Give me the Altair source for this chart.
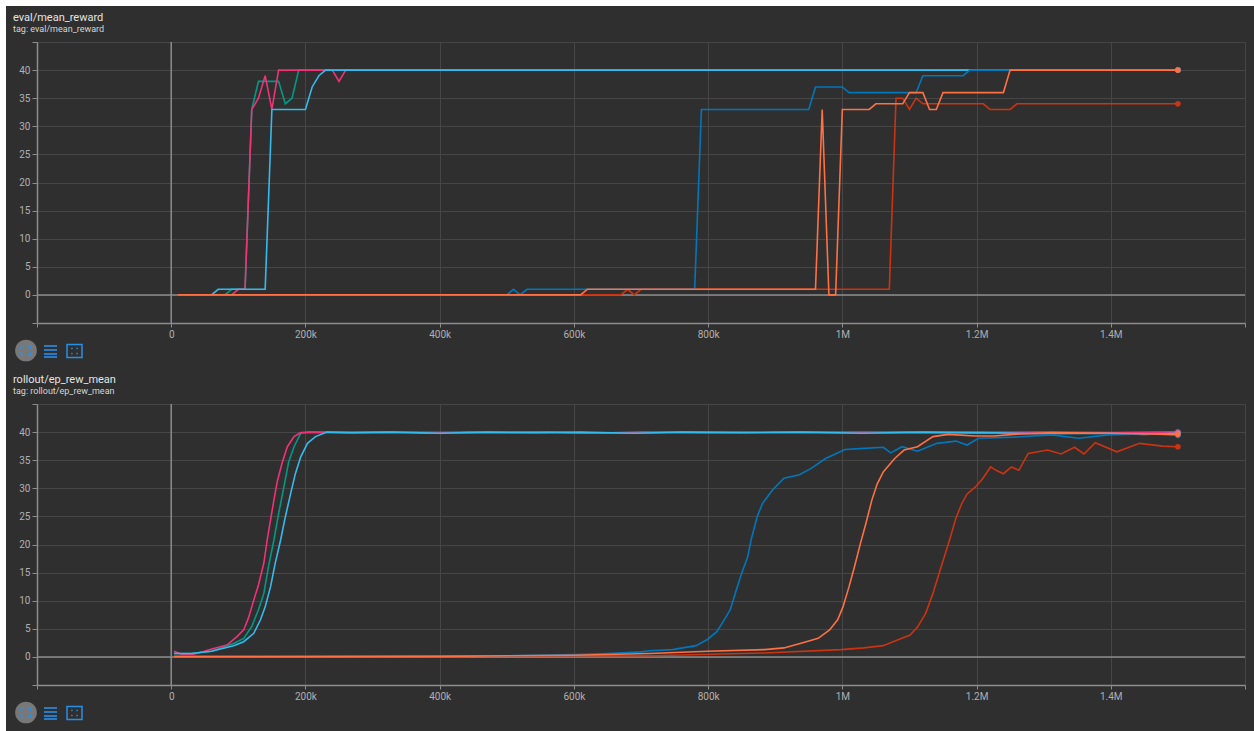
import altair as alt
import pandas as pd

# ---------------- data (steps in thousands) ----------------
ORDER = ["teal", "pink", "red", "cyan", "blue", "orange"]   # drawing order (bottom -> top)
COLORS = {"pink": "#ee3377", "teal": "#009988", "red": "#cc3311",
          "cyan": "#33bbee", "blue": "#0077bb", "orange": "#ff7043"}

# eval/mean_reward
ev_pink_x = [10, 90, 100, 110, 120, 130, 140, 150, 160, 240, 250, 260, 1500]
ev_pink_y = [0, 0, 1, 1, 33, 35, 39, 33, 40, 40, 38, 40, 40]
ev_teal_x = [10, 80, 90, 110, 120, 130, 160, 170, 180, 190, 1500]
ev_teal_y = [0, 0, 1, 1, 33, 38, 38, 34, 35, 40, 40]
ev_cyan_x = [10, 60, 70, 140, 150, 200, 210, 220, 230, 1500]
ev_cyan_y = [0, 0, 1, 1, 33, 33, 37, 39, 40, 40]
ev_blue_x = [10, 500, 510, 520, 530, 780, 790, 950, 960, 1000, 1010, 1110, 1120, 1180, 1190, 1500]
ev_blue_y = [0, 0, 1, 0, 1, 1, 33, 33, 37, 37, 36, 36, 39, 39, 40, 40]
ev_orange_x = [10, 610, 620, 960, 970, 980, 990, 1000, 1040, 1050, 1090, 1100, 1120, 1130, 1140, 1150, 1240, 1250, 1500]
ev_orange_y = [0, 0, 1, 1, 33, 0, 0, 33, 33, 34, 34, 36, 36, 33, 33, 36, 36, 40, 40]
ev_red_x = [10, 670, 680, 690, 700, 1070, 1080, 1090, 1100, 1110, 1120, 1210, 1220, 1250, 1260, 1500]
ev_red_y = [0, 0, 1, 0, 1, 1, 35, 35, 33, 35, 34, 34, 33, 33, 34, 34]

# rollout/ep_rew_mean
ro_pink_x = [4, 15, 33, 48, 63, 83, 98, 108, 115, 123, 130, 138, 143, 148, 153, 158, 165, 173, 183, 193,
             210, 260, 320, 380, 440, 500, 560, 620, 700, 800, 900, 1000, 1100, 1200, 1300, 1400, 1500]
ro_pink_y = [1.0, 0.5, 0.5, 0.95, 1.5, 2.1, 3.6, 4.8, 6.9, 10.1, 12.8, 16.7, 20.8, 24.4, 27.9, 31.2, 34.4, 37.4, 39.2, 39.9,
             40, 39.9, 40, 39.8, 40, 39.9, 40, 39.8, 40, 39.9, 40, 39.9, 40, 39.8, 40, 39.9, 40]
ro_teal_x = [4, 30, 60, 93, 108, 120, 130, 138, 145, 153, 160, 168, 175, 183, 193,
             205, 280, 360, 450, 540, 640, 760, 880, 1000, 1120, 1240, 1360, 1500]
ro_teal_y = [0.6, 0.6, 1.0, 2.4, 3.3, 5.4, 8.4, 11.3, 16.1, 20.8, 25.5, 30.3, 34.7, 37.4, 39.8,
             40, 39.9, 40, 39.9, 40, 39.8, 40, 39.9, 40, 39.9, 40, 39.8, 40]
ro_cyan_x = [4, 30, 60, 93, 108, 123, 133, 140, 148, 155, 163, 170, 178, 185, 193, 203, 215, 232,
             270, 330, 400, 470, 540, 610, 690, 760, 850, 940, 1030, 1120, 1210, 1300, 1390, 1450, 1500]
ro_cyan_y = [0.6, 0.6, 1.0, 2.0, 2.7, 4.2, 6.6, 8.9, 12.5, 16.7, 20.8, 24.9, 29.1, 32.6, 35.6, 38.0, 39.2, 40,
             39.9, 40, 39.8, 40, 39.9, 40, 39.8, 40, 39.9, 40, 39.8, 40, 39.9, 39.7, 39.8, 39.6, 39.8]
ro_blue_x = [4, 100, 200, 300, 400, 500, 600, 650, 700, 713, 747, 782, 799, 813, 824, 833, 842, 850, 859, 864,
             873, 881, 896, 913, 936, 953, 975, 1004, 1032, 1061, 1072, 1089, 1112, 1141, 1169, 1186, 1203,
             1255, 1312, 1352, 1397, 1454, 1500]
ro_blue_y = [0.1, 0.05, 0.1, 0.1, 0.15, 0.2, 0.4, 0.6, 0.9, 1.1, 1.3, 2.0, 3.1, 4.5, 6.6, 8.4, 11.9, 14.9, 17.8, 20.8,
             24.9, 27.3, 29.7, 31.8, 32.4, 33.5, 35.3, 36.9, 37.1, 37.3, 36.3, 37.4, 36.6, 38.0, 38.4, 37.7, 38.9,
             39.1, 39.5, 38.9, 39.5, 39.7, 39.4]
ro_orange_x = [4, 200, 400, 600, 713, 799, 884, 913, 941, 964, 981, 993, 1001, 1010, 1018, 1027, 1035, 1044,
               1052, 1061, 1078, 1092, 1112, 1135, 1158, 1198, 1226, 1255, 1312, 1397, 1500]
ro_orange_y = [0.05, 0.05, 0.1, 0.3, 0.6, 1.0, 1.3, 1.6, 2.5, 3.3, 4.8, 6.6, 8.9, 12.5, 16.0, 20.2, 23.7, 27.9,
               30.8, 32.9, 35.3, 36.8, 37.4, 39.2, 39.6, 39.3, 39.3, 39.6, 39.9, 39.8, 39.6]
ro_red_x = [4, 400, 600, 713, 884, 998, 1032, 1061, 1084, 1101, 1112, 1124, 1135, 1144, 1152, 1161, 1169, 1178,
            1186, 1198, 1209, 1221, 1229, 1240, 1252, 1263, 1277, 1306, 1326, 1346, 1360, 1377, 1409, 1443, 1477, 1500]
ro_red_y = [0.05, 0.1, 0.2, 0.2, 0.7, 1.3, 1.6, 2.0, 3.1, 3.9, 5.3, 7.7, 11.3, 14.8, 17.8, 21.3, 24.6, 27.3,
            29.0, 30.2, 31.7, 33.8, 33.2, 32.6, 33.8, 33.2, 36.2, 36.8, 36.1, 37.3, 36.1, 38.1, 36.5, 38.0, 37.5, 37.4]

x_ticks = [-200, 0, 200, 400, 600, 800, 1000, 1200, 1400, 1600]
y_ticks = [-5, 0, 5, 10, 15, 20, 25, 30, 35, 40, 45]

eval_series = {"pink": (ev_pink_x, ev_pink_y), "teal": (ev_teal_x, ev_teal_y), "cyan": (ev_cyan_x, ev_cyan_y),
               "blue": (ev_blue_x, ev_blue_y), "orange": (ev_orange_x, ev_orange_y), "red": (ev_red_x, ev_red_y)}
roll_series = {"pink": (ro_pink_x, ro_pink_y), "teal": (ro_teal_x, ro_teal_y), "cyan": (ro_cyan_x, ro_cyan_y),
               "blue": (ro_blue_x, ro_blue_y), "orange": (ro_orange_x, ro_orange_y), "red": (ro_red_x, ro_red_y)}

BG = "#2f2f2f"
GRID = "#464646"
AXIS = "#8c8c8c"
ICON = "#2a8fe6"
FONT = "Roboto"


def to_df(series):
    rows = []
    for run, (xs, ys) in series.items():
        for s, v in zip(xs, ys):
            rows.append({"run": run, "step": s * 1000, "value": v})
    return pd.DataFrame(rows)


X_AXIS = alt.Axis(values=[v * 1000 for v in x_ticks], grid=True, tickSize=4, labelPadding=2,
                  labelExpr="datum.value == 0 ? '0' : (datum.value < 0 || datum.value > 1500000) ? '' : "
                            "datum.value < 1000000 ? format(datum.value/1000, 'd') + 'k' : "
                            "format(datum.value/1000000, '~g') + 'M'")
Y_AXIS = alt.Axis(values=y_ticks, grid=True, tickSize=5, labelPadding=2,
                  labelExpr="(datum.value < 0 || datum.value > 40) ? '' : datum.label")


def X():
    return alt.X("step:Q", scale=alt.Scale(domain=[-200000, 1600000], nice=False, zero=False),
                 axis=X_AXIS, title=None)


def Y():
    return alt.Y("value:Q", scale=alt.Scale(domain=[-5, 45], nice=False, zero=False),
                 axis=Y_AXIS, title=None)


ONE = pd.DataFrame({"k": [0]})


def decorations(title, subtitle):
    base = alt.Chart(ONE)
    layers = [
        base.mark_text(text=title, align="left", baseline="alphabetic", font=FONT, fontSize=11,
                       color="#e4e4e4").encode(x=alt.value(-24), y=alt.value(-21.5)),
        base.mark_text(text=subtitle, align="left", baseline="alphabetic", font=FONT, fontSize=9,
                       color="#d4d4d4").encode(x=alt.value(-24), y=alt.value(-10.5)),
        base.mark_circle(size=470, color="#787878", opacity=1).encode(x=alt.value(-11), y=alt.value(308.5)),
        base.mark_point(shape="square", size=90, filled=False, color=ICON, strokeWidth=1.6,
                        strokeDash=[3, 3.5, 3, 0], opacity=1).encode(x=alt.value(-11), y=alt.value(308.5)),
        base.mark_rect(fillOpacity=0, stroke=ICON, strokeWidth=1.5).encode(
            x=alt.value(30), x2=alt.value(45), y=alt.value(302.5), y2=alt.value(315.5)),
        base.mark_point(shape="square", size=30, filled=False, color=ICON, strokeWidth=1.2,
                        strokeDash=[1, 3.5, 1, 0], opacity=1).encode(x=alt.value(37.5), y=alt.value(309)),
    ]
    for yy in [304, 308, 312, 315]:
        layers.append(base.mark_rule(color=ICON, strokeWidth=1.6).encode(
            x=alt.value(7), x2=alt.value(20), y=alt.value(yy)))
    return layers


def panel(series, title, subtitle, frame_strips=False):
    df = to_df(series)
    last = df.loc[df.groupby("run")["step"].idxmax()]
    layers = []
    if frame_strips:
        base = alt.Chart(ONE)
        layers += [
            base.mark_rect(color="#ffffff").encode(x=alt.value(-37), x2=alt.value(1217),
                                                   y=alt.value(-42), y2=alt.value(-36)),
            base.mark_rect(color="#ffffff").encode(x=alt.value(-37), x2=alt.value(-31),
                                                   y=alt.value(-42), y2=alt.value(689)),
        ]
    layers += [
        alt.Chart(pd.DataFrame({"step": [0]})).mark_rule(color=AXIS, strokeWidth=1.5).encode(x=X()),
        alt.Chart(pd.DataFrame({"value": [0]})).mark_rule(color=AXIS, strokeWidth=1.5).encode(y=Y()),
    ]
    for r in ORDER:
        layers.append(alt.Chart(df[df.run == r]).mark_line(color=COLORS[r], strokeWidth=1.6)
                      .encode(x=X(), y=Y(), order="step:Q"))
    for r in ORDER:
        layers.append(alt.Chart(last[last.run == r]).mark_circle(color=COLORS[r], size=32, opacity=1)
                      .encode(x=X(), y=Y()))
    layers += decorations(title, subtitle)
    return alt.layer(*layers).properties(width=1208, height=281)


top = panel(eval_series, "eval/mean_reward", "tag: eval/mean_reward", frame_strips=True)
bottom = panel(roll_series, "rollout/ep_rew_mean", "tag: rollout/ep_rew_mean")

chart = alt.vconcat(top, bottom, spacing=81, bounds="flush").properties(
    background=BG, padding=0
).configure_view(stroke=None).configure_axis(
    gridColor=GRID, gridWidth=1, domainColor=AXIS, domainWidth=1.5, tickColor=AXIS,
    labelColor="#b0b0b0", labelFont=FONT, labelFontSize=10
)

chart.save("out.html", embed_options={"renderer": "svg", "actions": False})
